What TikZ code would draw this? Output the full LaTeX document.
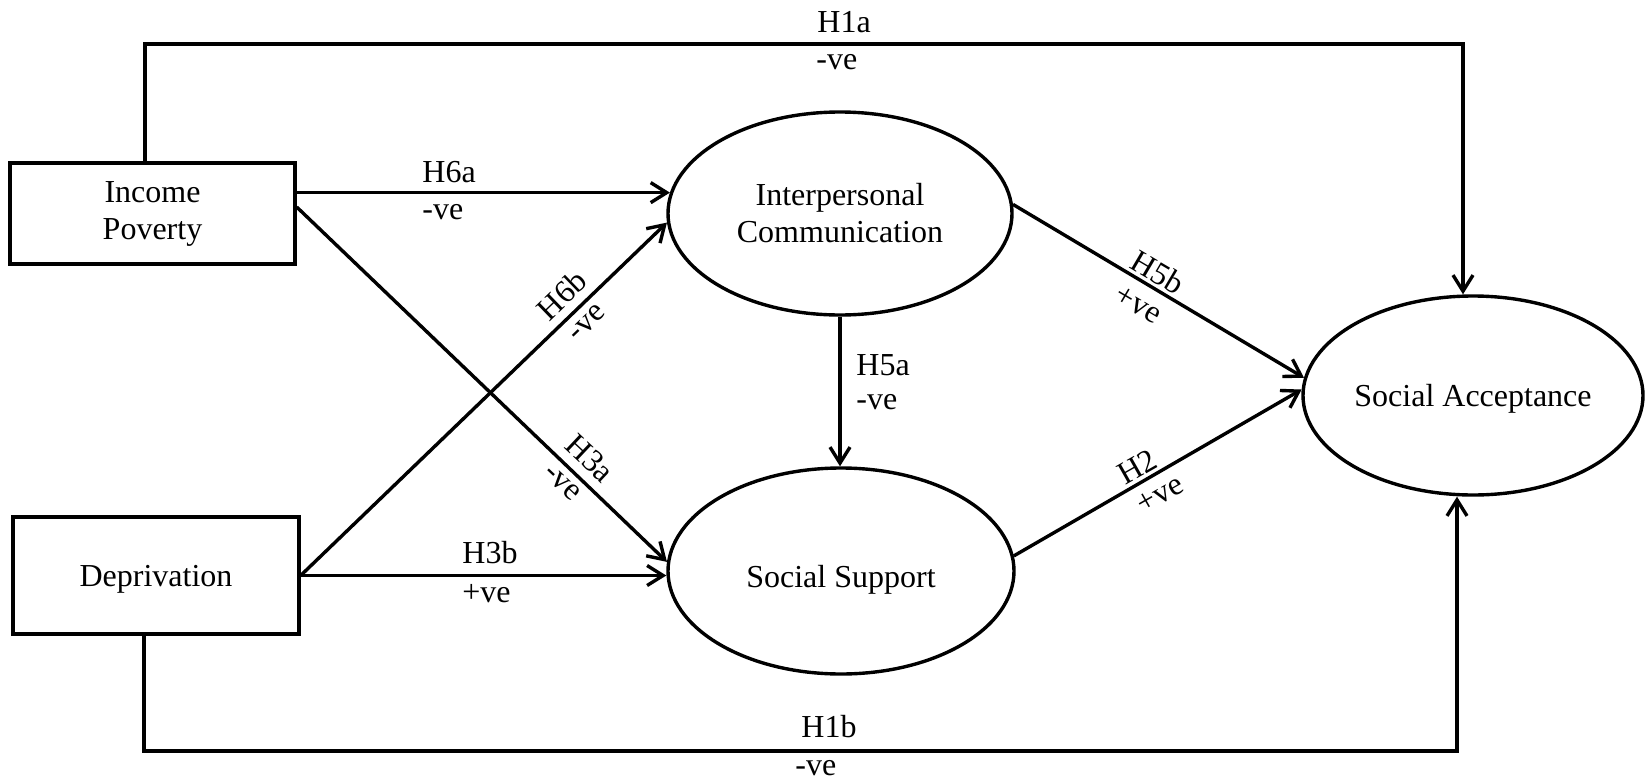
\documentclass[tikz,border=0pt]{standalone}
\usepackage{fontspec}
\setmainfont{Liberation Serif}
\usetikzlibrary{shapes.geometric,arrows.meta}
\tikzset{
  txt/.style={font=\fontsize{16pt}{18.5pt}\selectfont},
  boxnode/.style={txt, draw, line width=1.7pt, inner sep=0pt, align=center},
  ellnode/.style={txt, draw, ellipse, line width=1.7pt, inner sep=0pt, align=center},
  arr/.style={line width=1.7pt, line join=miter, -{Straight Barb[length=8pt,width=10pt]}},
  lbl/.style={txt, inner sep=0pt},
}
\begin{document}
\begin{tikzpicture}[x=0.5pt,y=-0.5pt]
\useasboundingbox (0,0) rectangle (1645,782);

% nodes
\node[boxnode, minimum width=142.5pt, minimum height=50.5pt] (ip) at (152.5,213.5) {Income\\Poverty};
\node[boxnode, minimum width=143pt, minimum height=58.5pt, text depth=0pt] (dep) at (156,575.5) {Deprivation};
\node[ellnode, minimum width=172pt, minimum height=101.5pt] (ic) at (840,213.5) {Interpersonal\\Communication};
\node[ellnode, minimum width=173pt, minimum height=103pt, text height=16.8pt, text depth=0pt] (ss) at (841,571) {Social Support};
\node[ellnode, minimum width=170pt, minimum height=99.5pt, text depth=0pt] (sa) at (1473,395.5) {Social Acceptance};

% corner coordinates
\coordinate (tl) at (145,44);
\coordinate (tr) at (1463,44);
\coordinate (bl) at (144,751);
\coordinate (br) at (1457,751);

% connectors
\draw[arr] (ip.north -| tl) -- (tl) -- (tr) -- (tr |- sa.north);
\draw[arr] (dep.south -| bl) -- (bl) -- (br) -- (br |- sa.south);
\draw[arr] (ic.173 -| ip.east) -- (ic.173);
\draw[arr] ([yshift=3.25pt]ip.east) -- (ss.177.5);
\draw[arr] (dep.east) -- (ic.183);
\draw[arr] (dep.east) -- (dep.east -| ss.west);
\draw[arr] (ic.south) -- (ic.south |- ss.north);
\draw[arr] (ic.3) -- (sa.174);
\draw[arr] (ss.5) -- (sa.178);

% labels
\node[lbl, anchor=base west] (h1a) at (817,32) {H1a};
\node[lbl, anchor=base west] (h1av) at (816,69) {-ve};
\node[lbl, anchor=base west] (h6a) at (422,182) {H6a};
\node[lbl, anchor=base west] (h6av) at (422,219) {-ve};
\node[lbl, anchor=base west] (h5a) at (856,375) {H5a};
\node[lbl, anchor=base west] (h5av) at (856,409) {-ve};
\node[lbl, anchor=base west] (h3b) at (462,563) {H3b};
\node[lbl, anchor=base west] (h3bv) at (462,602) {+ve};
\node[lbl, anchor=base west] (h1b) at (801,737) {H1b};
\node[lbl, anchor=base west] (h1bv) at (795,775) {-ve};
\node[lbl, rotate=44] (h6b) at (562,295) {H6b};
\node[lbl, rotate=44] (h6bv) at (587,323) {-ve};
\node[lbl, rotate=-43.3] (h3a) at (590,458) {H3a};
\node[lbl, rotate=-43.3] (h3av) at (562,483) {-ve};
\node[lbl, rotate=-30.5] (h5b) at (1158,272) {H5b};
\node[lbl, rotate=-30.5] (h5bv) at (1138,305) {+ve};
\node[lbl, rotate=29.6] (h2) at (1137,467) {H2};
\node[lbl, rotate=29.6] (h2v) at (1160,495) {+ve};
\end{tikzpicture}
\end{document}
